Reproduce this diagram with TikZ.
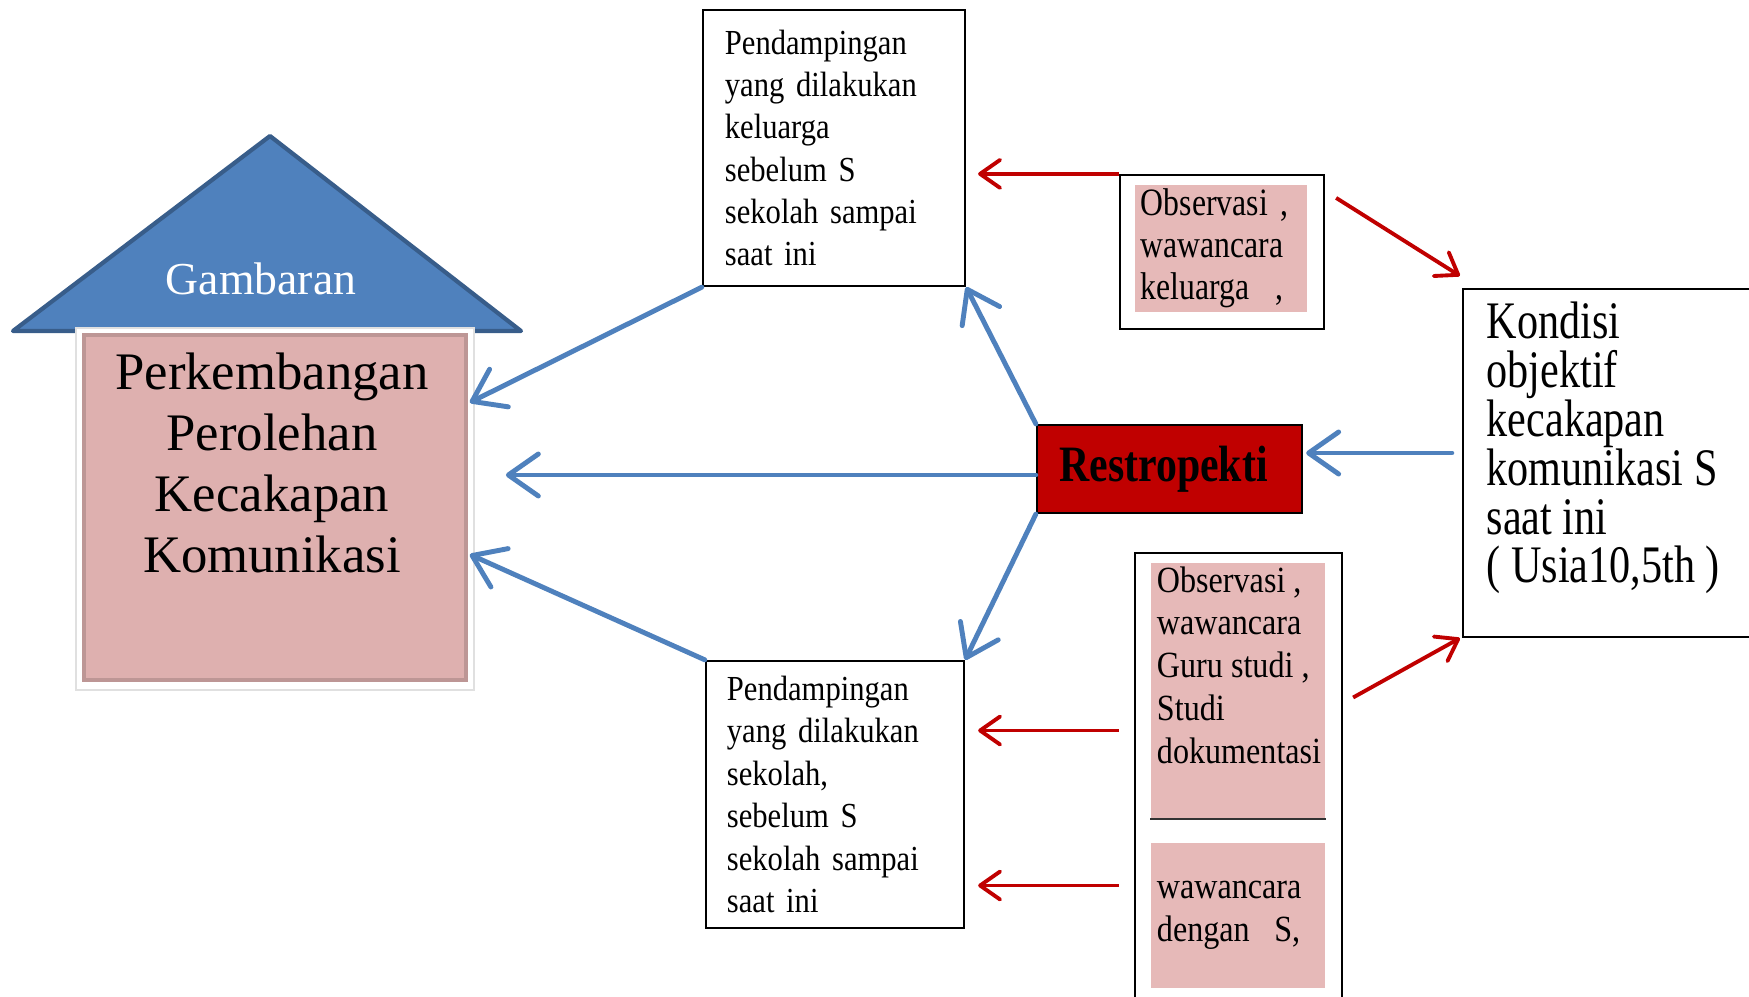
\documentclass[tikz,border=0pt]{standalone}
\usepackage{fontspec}
\setmainfont{Liberation Serif}
\newfontfamily\boxfont[FakeStretch=0.87]{Liberation Serif}
\newfontfamily\obsfont[FakeStretch=0.82]{Liberation Serif}
\newfontfamily\kondfont[FakeStretch=0.8]{Liberation Serif}
\usepackage{tikz}
\usetikzlibrary{arrows.meta,calc}

\definecolor{roofblue}{HTML}{4F81BD}
\definecolor{roofline}{HTML}{385D8A}
\definecolor{softpink}{HTML}{E6B9B8}
\definecolor{housepink}{HTML}{DEB0AF}
\definecolor{darkred}{HTML}{C00000}

\begin{document}
\begin{tikzpicture}[x=0.01cm,y=0.01cm]
\useasboundingbox (0,0) rectangle (1749,996);

% house: roof and body
\filldraw[fill=roofblue,draw=roofline,line width=1.2pt,line join=round]
    (13,665) -- (270,860) -- (521,665) -- cycle;
\node[text=white,font=\fontsize{13}{15}\selectfont] (roof) at (261,717) {Gambaran};
\node[fill=white,draw=black!12,minimum width=3.98cm,minimum height=3.62cm] (glow) at (275,487) {};
\node[fill=housepink,draw=housepink!85!black,line width=1pt,
      minimum width=3.82cm,minimum height=3.45cm] (dev) at (275,488.5) {};
\node[align=center,font=\fontsize{15}{17.4}\selectfont] (devtxt) at (272,533)
    {Perkembangan\\ Perolehan\\ Kecakapan\\ Komunikasi};

\begin{scope}[every node/.style={draw=black,line width=0.6pt,fill=white,align=left,inner sep=0pt}]
    \node[minimum width=2.62cm,minimum height=2.76cm,text width=2.18cm,
          font=\boxfont\fontsize{10}{12}\selectfont] (pendk) at (834,848)
        {Pendampingan\\ yang dilakukan\\ keluarga\\ sebelum S\\ sekolah sampai\\ saat ini};
    \node[minimum width=2.58cm,minimum height=2.67cm,text width=2.16cm,
          font=\boxfont\fontsize{10}{12.1}\selectfont] (pends) at (835,201.5)
        {Pendampingan\\ yang dilakukan\\ sekolah,\\ sebelum S\\ sekolah sampai\\ saat ini};
    \node[minimum width=2.04cm,minimum height=1.54cm] (obsk) at (1222,744) {};
    \node[minimum width=2.96cm,minimum height=3.48cm] (kond) at (1611,533) {};
    \node[fill=darkred,minimum width=2.65cm,minimum height=0.88cm,
          font=\obsfont\fontsize{14.5}{16}\selectfont\bfseries] (restro) at (1169.5,527)
        {Restropekti\hspace*{0.12cm}};
    \node[minimum width=2.07cm,minimum height=4.57cm] (obss) at (1238.5,214.5) {};
\end{scope}
\node[anchor=west,align=left,inner sep=0pt,
      font=\kondfont\fontsize{15}{13.9}\selectfont] (kondtxt) at (1486,548)
    {Kondisi\\ objektif\\ kecakapan\\ komunikasi S\\ saat ini\\ ( Usia10,5th )};

\begin{scope}[every node/.style={fill=softpink,align=left,inner xsep=0.06cm,inner ysep=0pt}]
    \node[minimum width=1.72cm,minimum height=1.27cm,text width=1.6cm,
          font=\obsfont\fontsize{11}{12}\selectfont] (pinkk) at (1221,747.5)
        {Observasi ,\\ wawancara\\ keluarga\ \ ,};
    \node[minimum width=1.74cm,minimum height=2.55cm] (pink1) at (1238,305.5) {};
    \node[minimum width=1.74cm,minimum height=1.45cm,text width=1.62cm,
          font=\boxfont\fontsize{10.5}{12.2}\selectfont] (pink2) at (1238,80.5)
        {wawancara\\ dengan\ \ S,};
\end{scope}
\node[anchor=north west,align=left,inner xsep=0.06cm,inner ysep=1pt,
      font=\boxfont\fontsize{10.5}{12.2}\selectfont] (pink1txt) at (pink1.north west)
    {Observasi ,\\ wawancara\\ Guru studi ,\\ Studi\\ dokumentasi};
\draw[black!80,line width=0.7pt] (pink1.south west) -- (pink1.south east);

\begin{scope}[>={Straight Barb[length=3mm,width=4.2mm,round]},
              every edge/.style={draw=roofblue,line width=1.4pt,line cap=round}]
    \path [->] (pendk.south west) edge ($(dev.east)+(2,105)$);
    \path [->] ($(restro.west)+(0,-6)$) edge ($(restro.west -| dev.east)+(38,-6)$);
    \path [->] (pends.north west) edge ($(dev.east)+(2,-47)$);
    \path [->] (restro.north west) edge (pendk.south east);
    \path [->] (restro.south west) edge (pends.north east);
    \path [->] ($(kond.west)+(-10,10)$) edge ($(restro.east)+(3,16)$);
\end{scope}

\begin{scope}[>={Straight Barb[length=2mm,width=2.8mm,round]},
              every edge/.style={draw=darkred,line width=1.1pt}]
    \path [->] (obsk.north west) edge ($(obsk.north west -| pendk.east)+(12,0)$);
    \path [->] ($(obsk.north east)+(11,-24)$) edge ($(kond.north west)+(-2,12)$);
    \path [->] ($(obss.east)+(10,84)$) edge ($(kond.south west)+(-2,0)$);
    \path [->] ($(pink1.west -| obss.west)+(-15,-40)$) edge ($(pink1.west -| pends.east)+(13,-40)$);
    \path [->] ($(pink2.west -| obss.west)+(-15,30)$) edge ($(pink2.west -| pends.east)+(13,30)$);
\end{scope}
\end{tikzpicture}
\end{document}
